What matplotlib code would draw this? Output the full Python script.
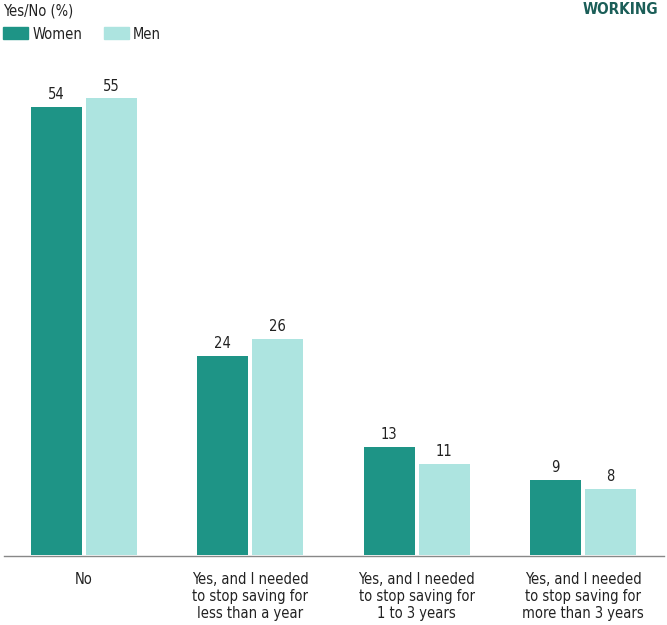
import matplotlib
matplotlib.use("Agg")
import matplotlib.pyplot as plt
import numpy as np
from matplotlib.patches import Rectangle
from matplotlib.lines import Line2D

categories = ["No",
              "Yes, and I needed\nto stop saving for\nless than a year",
              "Yes, and I needed\nto stop saving for\n1 to 3 years",
              "Yes, and I needed\nto stop saving for\nmore than 3 years"]
women = [54, 24, 13, 9]
men = [55, 26, 11, 8]
series_names = ["Women", "Men"]

c_women = "#1e9486"
c_men = "#ade4e0"
plt.rcParams['font.family'] = ['DejaVu Sans']
plt.rcParams['font.stretch'] = 'condensed'

W, H = 667, 625
fig = plt.figure(figsize=(W/100, H/100), dpi=100)
left, right, bottom = 0.8, 666.1, 555
top = 57
ax = fig.add_axes([left/W, 1-bottom/H, (right-left)/W, (bottom-top)/H])

x = np.arange(len(categories))
bw = 0.307
gap = 0.012
fs = 10.5
ax.bar(x - bw/2 - gap, women, width=bw, color=c_women)
ax.bar(x + bw/2 + gap, men, width=bw, color=c_men)
for xi, v in zip(x, women):
    ax.text(xi - bw/2 - gap, v + 0.95, str(v), ha='center', va='baseline', fontsize=fs, color='#222222')
for xi, v in zip(x, men):
    ax.text(xi + bw/2 + gap, v + 0.95, str(v), ha='center', va='baseline', fontsize=fs, color='#222222')

ax.set_xlim(-0.5, 3.5)
ax.set_ylim(0, 60)
ax.set_yticks([])
ax.set_xticks(x)
ax.set_xticklabels(categories, fontsize=fs, color='#222222', linespacing=1.14)
ax.tick_params(axis='x', length=0, pad=12.5)
for s in ['top', 'right', 'left', 'bottom']:
    ax.spines[s].set_visible(False)
fig.add_artist(Line2D([4/W, 664/W], [1-555.5/H, 1-555.5/H], transform=fig.transFigure,
                      color='#888888', lw=1))

fig.text(3/W, 1-15/H, "Yes/No (%)", fontsize=fs, color='#222222', va='baseline', ha='left')
fig.text(658/W, 1-14.3/H, "WORKING", fontsize=11, color='#1b5e58', weight='bold',
         va='baseline', ha='right')
# legend
fig.patches.append(Rectangle((3/W, 1-39/H), 25/W, 12/H, transform=fig.transFigure, color=c_women))
fig.text(33/W, 1-39/H, series_names[0], fontsize=fs, color='#222222', va='baseline', ha='left')
fig.patches.append(Rectangle((104/W, 1-39/H), 25/W, 12/H, transform=fig.transFigure, color=c_men))
fig.text(133/W, 1-39/H, series_names[1], fontsize=fs, color='#222222', va='baseline', ha='left')

fig.savefig("out.png", dpi=100)
